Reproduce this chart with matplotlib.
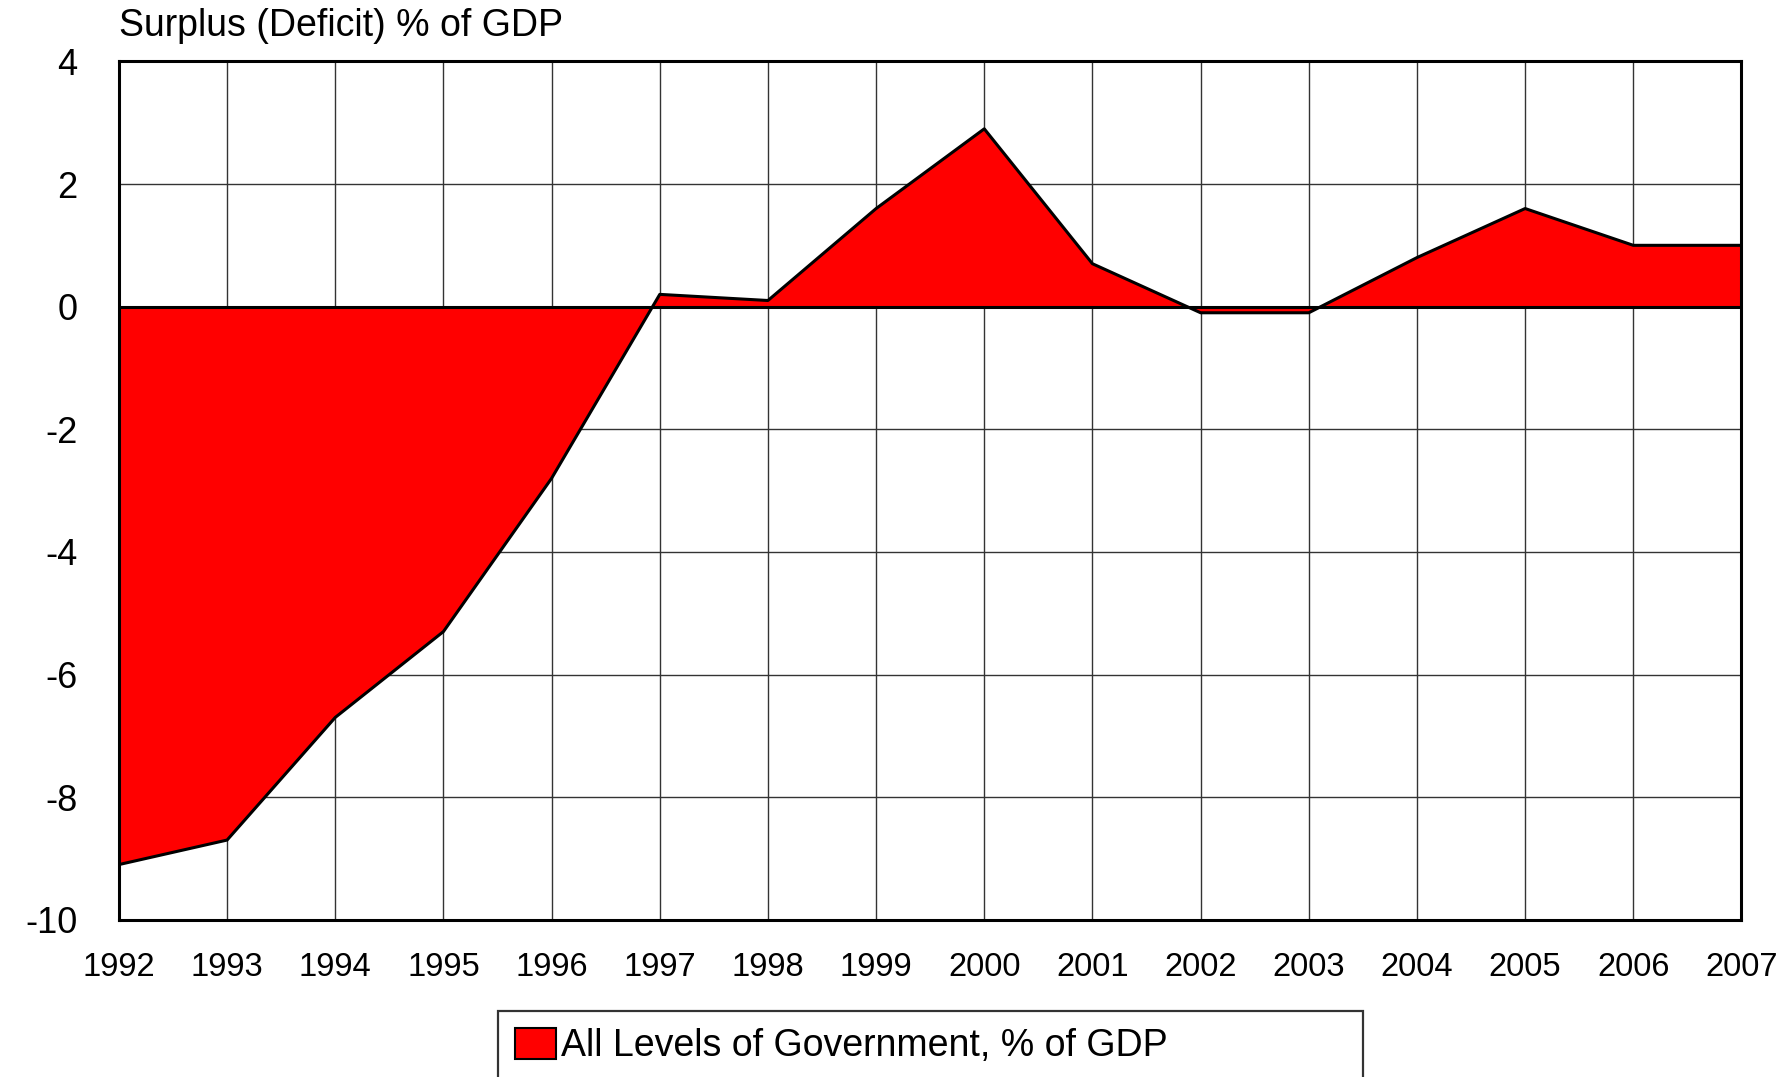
import matplotlib.pyplot as plt
import numpy as np

years = [1992, 1993, 1994, 1995, 1996, 1997, 1998, 1999, 2000,
         2001, 2002, 2003, 2004, 2005, 2006, 2007]
balance = [-9.1, -8.7, -6.7, -5.3, -2.8, 0.2, 0.1, 1.6, 2.9,
           0.7, -0.1, -0.1, 0.8, 1.6, 1.0, 1.0]
y_ticks = [4, 2, 0, -2, -4, -6, -8, -10]
series_name = 'All Levels of Government, % of GDP'
y_title = 'Surplus (Deficit) % of GDP'

plt.rcParams['font.family'] = ['Liberation Sans', 'DejaVu Sans']
plt.rcParams['axes.unicode_minus'] = False

fig = plt.figure(figsize=(17.83, 10.77), dpi=100)
ax = fig.add_axes([0.0667, 0.146, 0.910, 0.797])

x = np.array(years, dtype=float)
y = np.array(balance)
ax.fill_between(x, y, 0, interpolate=True, color='#ff0000', linewidth=0,
                zorder=2, label=series_name)
ax.plot(x, y, color='black', lw=2.2, zorder=3)
ax.axhline(0, color='black', lw=2.2, zorder=3)

ax.set_xlim(years[0], years[-1])
ax.set_ylim(-10, 4)
ax.set_xticks(years)
ax.set_yticks(y_ticks)
ax.set_yticklabels([str(v) for v in y_ticks])
ax.tick_params(length=0)
ax.tick_params(axis='x', pad=23, labelsize=23.5)
ax.tick_params(axis='y', pad=30, labelsize=26)
ax.grid(True, color='0.2', lw=1.0, zorder=1)
ax.set_axisbelow(True)
for s in ax.spines.values():
    s.set_linewidth(2.2)
    s.set_zorder(4)

fig.text(0.0667, 0.976, y_title, fontsize=27, ha='left', va='center')

leg = fig.legend(loc='upper left', bbox_to_anchor=(0.2793, -0.05, 0.485, 0.1113),
                 mode='expand', fontsize=27, frameon=True, fancybox=False,
                 handlelength=1.1, handleheight=0.9, handletextpad=0.12,
                 borderpad=0.45, borderaxespad=0)
leg.get_frame().set_edgecolor('black')
leg.get_frame().set_linewidth(1.6)
leg.legend_handles[0].set_edgecolor('black')
leg.legend_handles[0].set_linewidth(1.5)

fig.savefig('out.png', dpi=100)
